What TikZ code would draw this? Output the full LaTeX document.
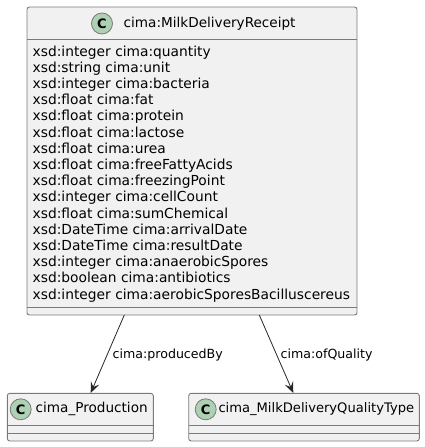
\documentclass[tikz,border=0pt]{standalone}
\usepackage{fontspec}
\setmainfont{DejaVu Sans}
\usetikzlibrary{arrows.meta}
\definecolor{boxfill}{HTML}{F1F1F1}
\definecolor{boxline}{HTML}{7A7A7A}
\definecolor{circfill}{HTML}{ADD1B2}
\tikzset{
  classbox/.style={draw=boxline, fill=boxfill, line width=0.9pt, rounded corners=2.5pt},
  sep/.style={draw=boxline, line width=0.9pt},
  attr/.style={anchor=base west, inner sep=0pt, font=\fontsize{13.8}{16}\selectfont},
  cname/.style={anchor=west, inner sep=0pt, font=\fontsize{13.6}{16}\selectfont},
  badge/.style={circle, draw=boxline, line width=0.8pt, fill=circfill, minimum size=21pt, inner sep=0pt, font=\fontsize{13}{13}\bfseries\selectfont},
  lbl/.style={anchor=west, inner sep=0pt, font=\fontsize{12.6}{14}\selectfont},
  conn/.style={draw=black!85, line width=0.8pt, -{Stealth[length=11pt,width=9pt,inset=4.5pt]}}
}
\begin{document}
\begin{tikzpicture}[x=1pt,y=-1pt]
\useasboundingbox (0,0) rectangle (425,447);
% main class
\path[classbox] (27,7) rectangle (357,315);
\draw[sep] (27,39) -- (357,39);
\draw[sep] (27,307) -- (357,307);
\node[badge] (c1) at (102,23.5) {C};
\node[cname] (t1) at (123.5,23.5) {cima:MilkDeliveryReceipt};
\foreach \t [count=\i from 0] in {
xsd:integer cima:quantity,
xsd:string cima:unit,
xsd:integer cima:bacteria,
xsd:float cima:fat,
xsd:float cima:protein,
xsd:float cima:lactose,
xsd:float cima:urea,
xsd:float cima:freeFattyAcids,
xsd:float cima:freezingPoint,
xsd:integer cima:cellCount,
xsd:float cima:sumChemical,
xsd:DateTime cima:arrivalDate,
xsd:DateTime cima:resultDate,
xsd:integer cima:anaerobicSpores,
xsd:boolean cima:antibiotics,
xsd:integer cima:aerobicSporesBacilluscereus}
  \node[attr] (a\i) at (32.5,{56+16.2*\i}) {\t};
% production
\path[classbox] (7.3,393.3) rectangle (153.3,441);
\draw[sep] (7.3,425) -- (153.3,425);
\draw[sep] (7.3,433) -- (153.3,433);
\node[badge] (c2) at (20.7,409.3) {C};
\node[cname] (t2) at (35.5,409.3) {cima\_Production};
% quality type
\path[classbox] (188.7,393.3) rectangle (419.3,441);
\draw[sep] (188.7,425) -- (419.3,425);
\draw[sep] (188.7,433) -- (419.3,433);
\node[badge] (c3) at (205.7,409.3) {C};
\node[cname, font=\fontsize{13.1}{16}\selectfont] (t3) at (218.3,409.3) {cima\_MilkDeliveryQualityType};
% connectors
\coordinate (s1) at (124.3,315);
\coordinate (e1) at (90.7,393);
\coordinate (s2) at (259.3,315);
\coordinate (e2) at (293.3,393);
\draw[conn] (s1) -- (e1);
\draw[conn] (s2) -- (e2);
\node[lbl] (l1) at (112.5,355) {cima:producedBy};
\node[lbl] (l2) at (280.5,355) {cima:ofQuality};
\end{tikzpicture}
\end{document}
